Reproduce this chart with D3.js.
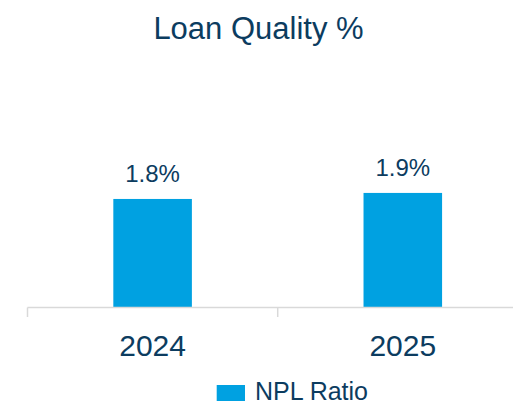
<!DOCTYPE html>
<html>
<head>
<meta charset="utf-8">
<script src="https://cdn.jsdelivr.net/npm/d3@7"></script>
<style>
  html, body { margin: 0; padding: 0; background: #fff; }
  svg { display: block; font-family: "Liberation Sans", Arial, sans-serif; }
</style>
</head>
<body>
<svg id="chart" width="513" height="403"></svg>
<script>
// Non-performing loan ratio by year
const years = ["2024", "2025"];
const nplRatio = [1.8, 1.9];
const seriesName = "NPL Ratio";
const chartTitle = "Loan Quality %";

const textColor = "#0c3c5f";
const barColor = "#00a1e1";
const axisColor = "#d9d9d9";

const svg = d3.select("#chart");
const baseY = 307.5;

const x = d3.scaleBand()
  .domain(years)
  .range([27.5, 527.9])
  .paddingInner(0.686)
  .paddingOuter(0.343);

const y = d3.scaleLinear()
  .domain([0, 2])
  .range([baseY, baseY - 120.6]);

// Title
svg.append("text")
  .attr("x", 258.5)
  .attr("y", 39.3)
  .attr("text-anchor", "middle")
  .attr("font-size", 31)
  .attr("fill", textColor)
  .text(chartTitle);

// Bars
svg.selectAll("rect.bar")
  .data(years)
  .join("rect")
  .attr("class", "bar")
  .attr("x", d => x(d))
  .attr("width", x.bandwidth())
  .attr("y", (d, i) => y(nplRatio[i]))
  .attr("height", (d, i) => y(0) - y(nplRatio[i]))
  .attr("fill", barColor);

// Value labels
svg.selectAll("text.val")
  .data(years)
  .join("text")
  .attr("class", "val")
  .attr("x", d => x(d) + x.bandwidth() / 2)
  .attr("y", (d, i) => y(nplRatio[i]) - 17.3)
  .attr("text-anchor", "middle")
  .attr("font-size", 24)
  .attr("fill", textColor)
  .text((d, i) => nplRatio[i].toFixed(1) + "%");

// Category axis: baseline plus boundary ticks between bands
const axisG = svg.append("g");
axisG.append("line")
  .attr("x1", x.range()[0]).attr("x2", x.range()[1])
  .attr("y1", baseY).attr("y2", baseY)
  .attr("stroke", axisColor).attr("stroke-width", 1.5);

const boundaries = years.map(d => x(d) - x.step() * x.paddingOuter())
  .concat([x.range()[1]]);
axisG.selectAll("line.tick")
  .data(boundaries)
  .join("line")
  .attr("class", "tick")
  .attr("x1", d => d).attr("x2", d => d)
  .attr("y1", baseY).attr("y2", baseY + 9.5)
  .attr("stroke", axisColor).attr("stroke-width", 1.5);

axisG.selectAll("text.cat")
  .data(years)
  .join("text")
  .attr("class", "cat")
  .attr("x", d => x(d) + x.bandwidth() / 2)
  .attr("y", 356)
  .attr("text-anchor", "middle")
  .attr("font-size", 30)
  .attr("fill", textColor)
  .text(d => d);

// Legend
const legend = svg.append("g");
legend.append("rect")
  .attr("x", 216.7).attr("y", 385)
  .attr("width", 28.3).attr("height", 16)
  .attr("fill", barColor);
legend.append("text")
  .attr("x", 255)
  .attr("y", 400)
  .attr("font-size", 25)
  .attr("fill", textColor)
  .text(seriesName);
</script>
</body>
</html>
